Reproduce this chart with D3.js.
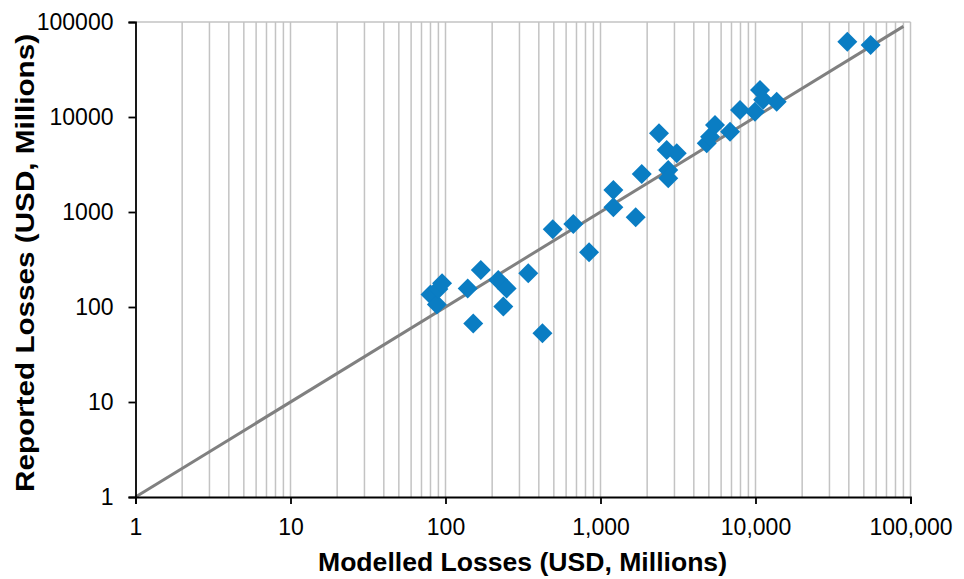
<!DOCTYPE html>
<html>
<head>
<meta charset="utf-8">
<script src="https://cdn.jsdelivr.net/npm/d3@7"></script>
<style>
  body { margin: 0; background: #fff; }
  svg { display: block; font-family: "Liberation Sans", Arial, sans-serif; }
</style>
</head>
<body>
<script>
// modelled vs reported losses, USD millions
const modelled = [80, 88, 90, 95, 139, 151, 169, 219, 236, 248, 342, 422, 492, 668, 844,
  1211, 1211, 1687, 1845, 2385, 2673, 3103, 2737, 2737, 4845, 5093, 5480, 6855, 7945,
  9930, 10690, 11200, 13700, 39100, 55300]
const reported = [135, 106, 155, 178, 157, 67, 245, 192, 101, 157, 226, 53, 657, 748, 377,
  1706, 1120, 879, 2512, 6732, 4498, 4150, 2770, 2263, 5285, 6200, 8240, 7000, 11850,
  11380, 19230, 15200, 14490, 62100, 57300]
const fitLine = [1, 90000]
const yTicks = [1, 10, 100, 1000, 10000, 100000]
const xTicks = [1, 10, 100, 1000, 10000, 100000]

const width = 964
const height = 579
const margin = {top: 22, right: 53.5, bottom: 82, left: 135.5}

const svg = d3.select('body').append('svg')
  .attr('width', width)
  .attr('height', height)

const x = d3.scaleLog().domain([1, 1e5]).range([margin.left, width - margin.right])
const y = d3.scaleLog().domain([1, 1e5]).range([height - margin.bottom, margin.top])

// vertical grid, minor + major
const gridVals = []
for (let p = 0; p < 5; p++) {
  for (let k = 2; k <= 10; k++) gridVals.push(k * Math.pow(10, p))
}
svg.append('g').selectAll('line')
  .data(gridVals)
  .enter().append('line')
  .attr('x1', d => x(d)).attr('x2', d => x(d))
  .attr('y1', y(1)).attr('y2', y(1e5))
  .attr('stroke', '#c3c3c3')
  .attr('stroke-width', 1.5)

// plot border (top)
svg.append('line')
  .attr('x1', x(1)).attr('x2', x(1e5))
  .attr('y1', y(1e5)).attr('y2', y(1e5))
  .attr('stroke', '#c3c3c3')
  .attr('stroke-width', 1.5)

// 1:1 line
svg.append('line')
  .attr('x1', x(fitLine[0])).attr('y1', y(fitLine[0]))
  .attr('x2', x(fitLine[1])).attr('y2', y(fitLine[1]))
  .attr('stroke', '#808080')
  .attr('stroke-width', 3)

// axes
const xAxis = svg.append('g')
  .attr('transform', 'translate(0,' + y(1) + ')')
  .call(d3.axisBottom(x).tickValues(xTicks).tickSize(7).tickPadding(8)
    .tickFormat(d3.format(',')))
const yAxis = svg.append('g')
  .attr('transform', 'translate(' + x(1) + ',0)')
  .call(d3.axisLeft(y).tickValues(yTicks).tickSize(7).tickPadding(15)
    .tickFormat(d3.format('d')))

;[xAxis, yAxis].forEach(a => {
  a.attr('font-size', null).attr('font-family', null)
  a.select('.domain').attr('stroke', '#000').attr('stroke-width', 1.8)
  a.selectAll('.tick line').attr('stroke', '#000').attr('stroke-width', 1.8)
  a.selectAll('.tick text')
    .attr('fill', '#000')
    .style('font-size', '23px')
})
xAxis.selectAll('.tick text').attr('dy', '1em')

// points
const pts = modelled.map((m, i) => ({m: m, r: reported[i]}))
const diamond = d3.symbol().type(d3.symbolSquare).size(200)
svg.append('g').selectAll('path')
  .data(pts)
  .enter().append('path')
  .attr('d', diamond)
  .attr('transform', d => 'translate(' + x(d.m) + ',' + y(d.r) + ') rotate(45)')
  .attr('fill', '#0A7DC3')

// titles
svg.append('text')
  .attr('x', 522.5)
  .attr('y', 571)
  .attr('text-anchor', 'middle')
  .attr('textLength', 409)
  .attr('lengthAdjust', 'spacingAndGlyphs')
  .style('font-size', '25px')
  .style('font-weight', 'bold')
  .text('Modelled Losses (USD, Millions)')

svg.append('text')
  .attr('transform', 'translate(34,263) rotate(-90)')
  .attr('text-anchor', 'middle')
  .attr('textLength', 458)
  .attr('lengthAdjust', 'spacingAndGlyphs')
  .style('font-size', '25px')
  .style('font-weight', 'bold')
  .text('Reported Losses (USD, Millions)')
</script>
</body>
</html>
